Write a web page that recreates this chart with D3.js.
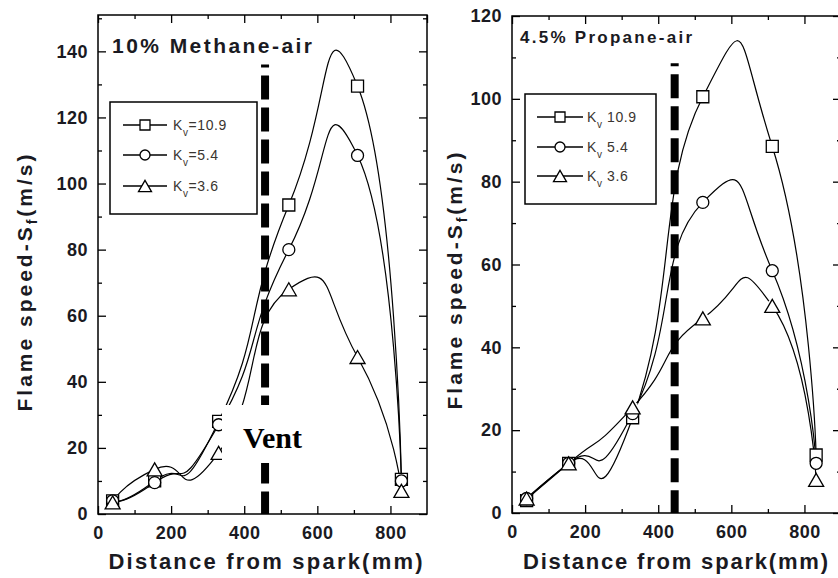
<!DOCTYPE html>
<html>
<head>
<meta charset="utf-8">
<script src="https://cdn.jsdelivr.net/npm/d3@7"></script>
<style>
  body { margin: 0; background: #fff; }
  svg { display: block; font-family: "Liberation Sans", Arial, sans-serif; }
</style>
</head>
<body>
<div id="chart"></div>
<script>
// Measured points (distance from spark in mm, flame speed in m/s)
const methaneDistance = [40, 155, 330, 522, 710, 830];
const methaneKv109 = [4, 10, 28, 93.5, 129.5, 10.5];
const methaneKv54 = [4, 9.5, 27, 80, 108.5, 10];
const methaneKv36 = [3.5, 13.5, 18.5, 68, 47.5, 7];

const propaneDistance = [40, 155, 330, 522, 712, 832];
const propaneKv109 = [3, 12, 23, 100.5, 88.5, 14];
const propaneKv54 = [3.5, 12, 24, 75, 58.5, 12];
const propaneKv36 = [3.5, 12, 25.5, 47, 50, 8];

const xTicks = [0, 200, 400, 600, 800];
const methaneYTicks = [0, 20, 40, 60, 80, 100, 120, 140];
const propaneYTicks = [0, 20, 40, 60, 80, 100, 120];

const seriesNames = ["10.9", "5.4", "3.6"];
const seriesSymbols = ["square", "circle", "triangle"];

// vent position [distance, top of dashed line]
const methaneVent = [457, 136];
const propaneVent = [445, 108.6];

const width = 838, height = 578;
const svg = d3.select("#chart").append("svg")
    .attr("width", width)
    .attr("height", height);

// Symbol path centred on 0,0
function symbolPath(type, s) {
    if (type === "square") {
        const h = s / 2;
        return `M${-h},${-h}H${h}V${h}H${-h}Z`;
    }
    if (type === "circle") {
        const r = s / 2;
        return `M${r},0A${r},${r} 0 1,1 ${-r},0A${r},${r} 0 1,1 ${r},0Z`;
    }
    const h = s * 0.866;
    return `M0,${-h / 2}L${s / 2},${h / 2}L${-s / 2},${h / 2}Z`;
}

function drawPanel(opt) {
    const g = svg.append("g");

    const x = d3.scaleLinear().domain([0, 900]).range([opt.left, opt.right]);
    const y = d3.scaleLinear().domain([0, opt.yMax]).range([opt.bottom, opt.top]);

    const minorX = d3.range(100, 900, 200);
    const minorY = d3.range(10, opt.yMax, 20);

    // axes, ticks pointing inward on all four sides
    const fontTick = "bold 18px 'Liberation Sans', Arial, sans-serif";

    const xb = g.append("g").attr("transform", `translate(0,${opt.bottom})`)
        .call(d3.axisBottom(x).tickValues(xTicks).tickSize(-8).tickPadding(12).tickFormat(d3.format("d")));
    g.append("g").attr("transform", `translate(0,${opt.bottom})`)
        .call(d3.axisBottom(x).tickValues(minorX).tickSize(-4).tickFormat(""));
    g.append("g").attr("transform", `translate(0,${opt.top})`)
        .call(d3.axisTop(x).tickValues(xTicks.concat([900])).tickSize(-8).tickFormat(""));
    g.append("g").attr("transform", `translate(0,${opt.top})`)
        .call(d3.axisTop(x).tickValues(minorX).tickSize(-4).tickFormat(""));

    g.append("g").attr("transform", `translate(${opt.left},0)`)
        .call(d3.axisLeft(y).tickValues(opt.yTicks).tickSize(-8).tickPadding(10));
    g.append("g").attr("transform", `translate(${opt.left},0)`)
        .call(d3.axisLeft(y).tickValues(minorY).tickSize(-4).tickFormat(""));
    g.append("g").attr("transform", `translate(${opt.right},0)`)
        .call(d3.axisRight(y).tickValues(opt.yTicks).tickSize(-8).tickFormat(""));
    g.append("g").attr("transform", `translate(${opt.right},0)`)
        .call(d3.axisRight(y).tickValues(minorY).tickSize(-4).tickFormat(""));

    g.selectAll(".domain").remove();
    g.selectAll(".tick line").attr("stroke", "#000").attr("stroke-width", 1.3);
    g.selectAll(".tick text")
        .style("font", fontTick)
        .attr("fill", "#1a1a22")
        .attr("letter-spacing", "0.5px");
    xb.selectAll(".tick text").attr("dy", "0.71em");

    // frame
    g.append("rect")
        .attr("x", opt.left).attr("y", opt.top)
        .attr("width", opt.right - opt.left).attr("height", opt.bottom - opt.top)
        .attr("fill", "none").attr("stroke", "#000").attr("stroke-width", 1.5);

    // spline curves through the measured points
    const line = d3.line()
        .x(d => x(d[0]))
        .y(d => y(d[1]))
        .curve(d3.curveCardinal.tension(-1));

    const series = opt.series.map(vals => vals.map((v, i) => [opt.distance[i], v]));

    g.append("g").selectAll("path")
        .data(series)
        .join("path")
        .attr("d", line)
        .attr("fill", "none")
        .attr("stroke", "#000")
        .attr("stroke-width", 1.2);

    // gap around the symbols
    if (opt.gap > 0) {
        series.forEach(s => {
            g.append("g").selectAll("circle")
                .data(s)
                .join("circle")
                .attr("cx", d => x(d[0]))
                .attr("cy", d => y(d[1]))
                .attr("r", opt.gap)
                .attr("fill", "#fff");
        });
    }

    series.forEach((s, k) => {
        const size = seriesSymbols[k] === "triangle" ? 15 : 12;
        g.append("g").selectAll("path")
            .data(s)
            .join("path")
            .attr("transform", d => `translate(${x(d[0])},${y(d[1])})`)
            .attr("d", symbolPath(seriesSymbols[k], size))
            .attr("fill", "#fff")
            .attr("stroke", "#000")
            .attr("stroke-width", 1.3);
    });

    // vent marker
    g.append("line")
        .attr("x1", x(opt.vent[0])).attr("x2", x(opt.vent[0]))
        .attr("y1", y(opt.vent[1])).attr("y2", y(0))
        .attr("stroke", "#000")
        .attr("stroke-width", 8)
        .attr("stroke-dasharray", "24,8")
        .attr("stroke-dashoffset", 21);

    if (opt.ventLabel) {
        g.append("rect")
            .attr("x", 222).attr("y", 405)
            .attr("width", 90).attr("height", 58)
            .attr("fill", "#fff");
        g.append("text")
            .attr("x", 243).attr("y", 448)
            .style("font", "bold 30px 'Liberation Serif', 'Times New Roman', serif")
            .attr("fill", "#000")
            .text("Vent");
    }

    // legend
    const lg = opt.legend;
    g.append("rect")
        .attr("x", lg.x).attr("y", lg.y)
        .attr("width", lg.w).attr("height", lg.h)
        .attr("fill", "#fff").attr("stroke", "#000").attr("stroke-width", 1.5);

    seriesNames.forEach((name, k) => {
        const cy = lg.rows[k];
        g.append("line")
            .attr("x1", lg.lineX[0]).attr("x2", lg.lineX[1])
            .attr("y1", cy).attr("y2", cy)
            .attr("stroke", "#000").attr("stroke-width", 1.3);
        g.append("path")
            .attr("transform", `translate(${(lg.lineX[0] + lg.lineX[1]) / 2},${cy})`)
            .attr("d", symbolPath(seriesSymbols[k], seriesSymbols[k] === "triangle" ? 13 : 10))
            .attr("fill", "#fff").attr("stroke", "#000").attr("stroke-width", 1.3);
        const t = g.append("text")
            .attr("x", lg.textX).attr("y", cy + 5)
            .style("font", "14px 'Liberation Sans', Arial, sans-serif")
            .attr("fill", "#3a3530")
            .attr("letter-spacing", "0.6px");
        t.append("tspan").text("K");
        t.append("tspan").attr("dy", 6).style("font-size", "10px").text("v");
        t.append("tspan").attr("dy", -6).text(lg.sep + name);
    });

    // panel title
    g.append("text")
        .attr("x", opt.title.x).attr("y", opt.title.y)
        .style("font", `bold ${opt.title.size}px 'Liberation Sans', Arial, sans-serif`)
        .attr("fill", "#1a1a22")
        .attr("textLength", opt.title.len)
        .attr("lengthAdjust", "spacing")
        .text(opt.title.text);

    // axis titles
    g.append("text")
        .attr("x", (opt.left + opt.right) / 2 + opt.xLabelShift)
        .attr("y", 569)
        .attr("text-anchor", "middle")
        .style("font", "bold 22px 'Liberation Sans', Arial, sans-serif")
        .attr("fill", "#1a1a22")
        .attr("textLength", opt.xLabelLen)
        .attr("lengthAdjust", "spacing")
        .text("Distance from spark(mm)");

    const yt = g.append("text")
        .attr("transform", `translate(${opt.yLabelX},${opt.yLabelY}) rotate(-90)`)
        .attr("text-anchor", "middle")
        .style("font", "bold 21px 'Liberation Sans', Arial, sans-serif")
        .attr("fill", "#1a1a22")
        .attr("textLength", 257)
        .attr("lengthAdjust", "spacing");
    yt.append("tspan").text("Flame speed-S");
    yt.append("tspan").attr("dy", 5).style("font-size", "14px").text("f");
    yt.append("tspan").attr("dy", -5).text("(m/s)");
}

drawPanel({
    left: 98, right: 427, top: 15, bottom: 514,
    yMax: 151, yTicks: methaneYTicks,
    distance: methaneDistance,
    series: [methaneKv109, methaneKv54, methaneKv36],
    gap: 0,
    vent: methaneVent, ventLabel: true,
    legend: { x: 110, y: 102, w: 147, h: 112, rows: [125, 155, 186], lineX: [123, 167], textX: 173, sep: "=" },
    title: { x: 112, y: 53, size: 21, len: 200, text: "10% Methane-air" },
    xLabelShift: 3, xLabelLen: 314,
    yLabelX: 32, yLabelY: 283
});

drawPanel({
    left: 512, right: 841, top: 16, bottom: 513,
    yMax: 120, yTicks: propaneYTicks,
    distance: propaneDistance,
    series: [propaneKv109, propaneKv54, propaneKv36],
    gap: 6,
    vent: propaneVent, ventLabel: false,
    legend: { x: 525, y: 94, w: 131, h: 110, rows: [117, 147, 176], lineX: [537, 583], textX: 587, sep: " " },
    title: { x: 520, y: 43, size: 17, len: 172, text: "4.5% Propane-air" },
    xLabelShift: -1, xLabelLen: 305,
    yLabelX: 462, yLabelY: 281
});
</script>
</body>
</html>
